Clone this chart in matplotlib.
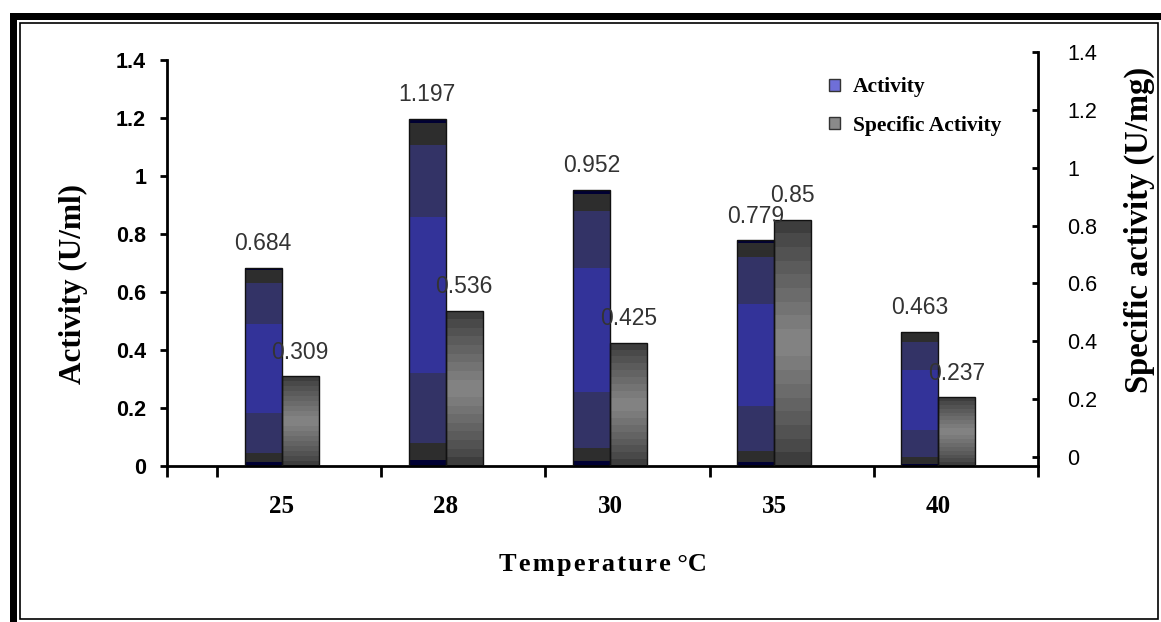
import matplotlib
matplotlib.use("Agg")
import matplotlib.pyplot as plt
from matplotlib.patches import Patch, Rectangle
import numpy as np

temps = ["25", "28", "30", "35", "40"]
activity = [0.684, 1.197, 0.952, 0.779, 0.463]
specific = [0.309, 0.536, 0.425, 0.85, 0.237]

W, H = 1161, 622
BAR_W = 0.225
SHIFT = -0.107   # bar pair sits left of the category centre

# excel-style banded fill for the activity bars (fractions measured from the top)
blue_bands = [(0.0, 0.013, "#000033"), (0.013, 0.076, "#2d2d2d"), (0.076, 0.284, "#333366"),
              (0.284, 0.733, "#333399"), (0.733, 0.933, "#333366"), (0.933, 0.982, "#2d2d2d"),
              (0.982, 1.0, "#000033")]


def gray_bands(n=18, dark=0x36, light=0x86):
    out = []
    for i in range(n):
        t = (i + 0.5) / n
        g = 1 - abs(2 * t - 1)
        v = int(dark + (light - dark) * g ** 0.8)
        out.append((i / n, (i + 1) / n, "#%02x%02x%02x" % (v, v, v)))
    return out


def banded_bar(ax, x, h, bands):
    for f0, f1, c in bands:
        ax.bar(x, h * (f1 - f0), bottom=h * (1 - f1), width=BAR_W, align="edge",
               color=c, linewidth=0, zorder=2)
    ax.bar(x, h, width=BAR_W, align="edge", fill=False, edgecolor="#111111",
           linewidth=1.0, zorder=3)


fig = plt.figure(figsize=(W / 100, H / 100), dpi=100)
fig.patch.set_facecolor("white")

# frame: heavy top/left shadow plus a thin inner rectangle
fig.add_artist(Rectangle((10 / W, 1 - 20 / H), 1 - 10 / W, 7 / H, transform=fig.transFigure,
                         color="black", linewidth=0))
fig.add_artist(Rectangle((10 / W, 0), 7 / W, 1 - 13 / H, transform=fig.transFigure,
                         color="black", linewidth=0))
fig.add_artist(Rectangle((19.5 / W, 3.5 / H), 1 - 23 / W, 1 - 26 / H, transform=fig.transFigure,
                         fill=False, edgecolor="black", linewidth=1.2))

ax = fig.add_axes([167 / W, 1 - 466 / H, (1038 - 167) / W, (466 - 60) / H])
x = np.arange(len(temps))
for xi, a, s in zip(x, activity, specific):
    banded_bar(ax, xi + SHIFT - BAR_W, a, blue_bands)
    banded_bar(ax, xi + SHIFT, s, gray_bands())
    ax.text(xi + SHIFT - BAR_W / 2, a + 0.083, f"{a:g}", ha="center", va="center",
            fontsize=16.5, family="Liberation Sans", color="#333333")
    ax.text(xi + SHIFT + BAR_W / 2, s + 0.083, f"{s:g}", ha="center", va="center",
            fontsize=16.5, family="Liberation Sans", color="#333333")

ax.set_xlim(-0.805, 4.5)
ax.set_ylim(0, 1.4)
ax.set_yticks(np.arange(0, 1.41, 0.2))
ax.set_yticklabels(["0", "0.2", "0.4", "0.6", "0.8", "1", "1.2", "1.4"],
                   fontsize=15.5, fontweight="bold", family="Liberation Sans")
ax.set_xticks(x + SHIFT)
ax.set_xticklabels(temps, fontsize=18, fontweight="bold", family="Liberation Serif")
ax.set_xticks([-0.805] + list(np.arange(-0.5, 4.51, 1.0)), minor=True)
ax.tick_params(axis="x", which="major", length=0, pad=21)
ax.tick_params(axis="x", which="minor", length=8, width=2, direction="out")
ax.tick_params(axis="y", length=5, width=2, direction="out", pad=10)
for sp in ["top", "right"]:
    ax.spines[sp].set_visible(False)
for sp in ["left", "bottom"]:
    ax.spines[sp].set_linewidth(2)
ax.set_ylabel("Activity (U/ml)", fontsize=22.5, fontweight="bold", family="Liberation Serif")
ax.yaxis.set_label_coords(-0.091, 0.448)
# lightly letter-spaced axis title
ax.set_xlabel("\u200a".join("Temperature") + " °C", fontsize=19, fontweight="bold",
              family=["Liberation Serif", "DejaVu Serif"])
ax.xaxis.set_label_coords(0.5, -0.215)
ax.set_facecolor("none")

# secondary scale is drawn a few pixels higher than the primary one
ax2 = fig.add_axes([167 / W, 1 - 457 / H, (1038 - 167) / W, (457 - 52) / H])
ax2.set_facecolor("none")
ax2.set_ylim(0, 1.4)
ax2.set_xlim(0, 1)
ax2.set_xticks([])
ax2.yaxis.tick_right()
ax2.yaxis.set_label_position("right")
ax2.set_yticks(np.arange(0, 1.41, 0.2))
ax2.set_yticklabels(["0", "0.2", "0.4", "0.6", "0.8", "1", "1.2", "1.4"],
                    fontsize=15.5, family="Liberation Sans")
ax2.tick_params(axis="y", length=4, width=2, direction="in", pad=21)
for sp in ["top", "left", "bottom"]:
    ax2.spines[sp].set_visible(False)
ax2.spines["right"].set_linewidth(2)
ax2.spines["right"].set_bounds(0, 1.4)
ax2.set_ylabel("Specific activity (U/mg)", fontsize=23.5, fontweight="bold",
               family="Liberation Serif")
ax2.yaxis.set_label_coords(1.099, 0.56)
# extend the right spine down to the category axis
ax.plot([4.5, 4.5], [0, 0.03], color="black", lw=2, clip_on=False)

handles = [Patch(facecolor="#6f6fd8", edgecolor="#333333", label="Activity"),
           Patch(facecolor="#8a8a8a", edgecolor="#333333", label="Specific Activity")]
fig.legend(handles=handles, loc="upper left", bbox_to_anchor=(810 / W, 1 - 58 / H),
           frameon=False, prop={"family": "Liberation Serif", "weight": "bold", "size": 15.5},
           handlelength=0.5, handleheight=0.5, handletextpad=0.6, labelspacing=0.85)

fig.savefig("out.png", dpi=100)
